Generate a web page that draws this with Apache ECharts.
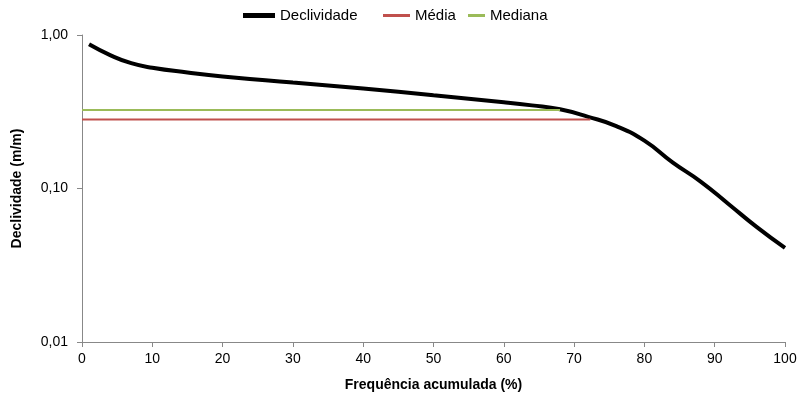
<!DOCTYPE html>
<html><head><meta charset="utf-8">
<script src="https://cdn.jsdelivr.net/npm/echarts@6/dist/echarts.min.js"></script>
<style>html,body{margin:0;padding:0;background:#fff}#c{width:800px;height:400px}</style>
</head><body><div id="c"></div>
<script>
const freq = [1, 4, 7, 10, 15, 20, 30, 40, 50, 60, 64, 68, 72, 76, 80, 84, 88, 92, 96, 100];
const declividade = [0.87, 0.74, 0.655, 0.612, 0.57, 0.537, 0.49, 0.448, 0.405, 0.365, 0.348, 0.328, 0.293, 0.255, 0.205, 0.148, 0.111, 0.079, 0.056, 0.041];
const mediaX = [0, 72.3];
const mediaY = [0.282, 0.282];
const medianaX = [0, 68];
const medianaY = [0.325, 0.325];
const yTicks = [0.01, 0.1, 1];

const font = 'Liberation Sans, Arial, sans-serif';
const legendText = {fontFamily: font, fontSize: 15, color: '#000'};
const chart = echarts.init(document.getElementById('c'));
chart.setOption({
  animation: false,
  textStyle: {fontFamily: font},
  legend: [
    {top: 8, left: 243, padding: 0, itemWidth: 32, itemHeight: 5, textStyle: legendText,
     data: [{name: 'Declividade', icon: 'rect'}]},
    {top: 8, left: 383, padding: 0, itemWidth: 27, itemHeight: 3, textStyle: legendText,
     data: [{name: 'Média', icon: 'rect'}]},
    {top: 8, left: 468, padding: 0, itemWidth: 17, itemHeight: 3, textStyle: legendText,
     data: [{name: 'Mediana', icon: 'rect'}]}
  ],
  grid: {left: 82, right: 15, top: 35, bottom: 58, outerBoundsMode: 'none', containLabel: false},
  xAxis: {
    type: 'value', min: 0, max: 100, interval: 10,
    name: 'Frequência acumulada (%)', nameLocation: 'middle', nameGap: 36,
    nameTextStyle: {fontFamily: font, fontSize: 14, fontWeight: 'bold', color: '#000'},
    axisLine: {lineStyle: {color: '#888'}},
    axisTick: {show: true, length: 5, lineStyle: {color: '#888'}},
    axisLabel: {fontFamily: font, fontSize: 14, color: '#000', margin: 10},
    splitLine: {show: false}
  },
  yAxis: {
    type: 'log', min: 0.01, max: 1, logBase: 10,
    name: 'Declividade (m/m)', nameLocation: 'middle', nameGap: 58,
    nameTextStyle: {fontFamily: font, fontSize: 14, fontWeight: 'bold', color: '#000'},
    axisLine: {show: true, lineStyle: {color: '#888'}},
    axisTick: {show: true, length: 5, lineStyle: {color: '#888'}},
    axisLabel: {fontFamily: font, fontSize: 14, color: '#000', margin: 14,
      formatter: v => yTicks.some(t => Math.abs(t - v) < 1e-9) ? v.toFixed(2).replace('.', ',') : ''},
    splitLine: {show: false}, minorTick: {show: false}
  },
  series: [
    {
      name: 'Declividade', type: 'line', smooth: 0.5, showSymbol: false,
      color: '#000', lineStyle: {color: '#000', width: 4},
      data: freq.map((x, i) => [x, declividade[i]]), z: 3
    },
    {
      name: 'Média', type: 'line', showSymbol: false,
      color: '#C0504D', lineStyle: {color: '#C0504D', width: 2},
      data: mediaX.map((x, i) => [x, mediaY[i]])
    },
    {
      name: 'Mediana', type: 'line', showSymbol: false,
      color: '#9BBB59', lineStyle: {color: '#9BBB59', width: 2},
      data: medianaX.map((x, i) => [x, medianaY[i]])
    }
  ]
});
</script></body></html>
